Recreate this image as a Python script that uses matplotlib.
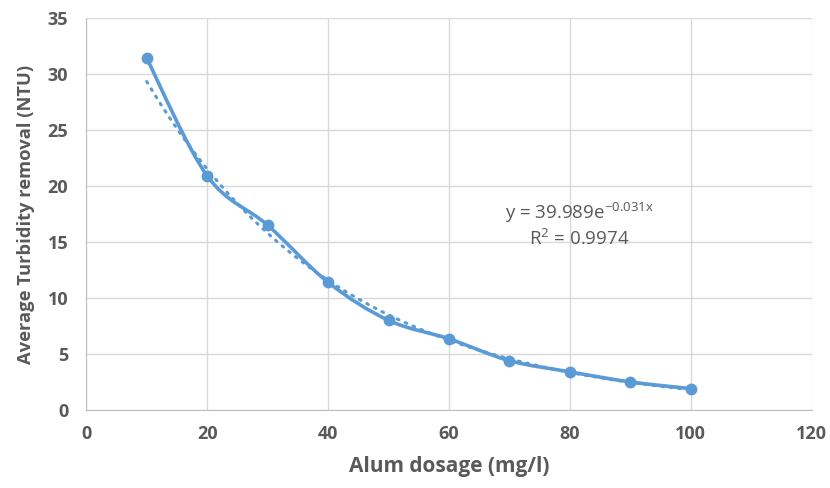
import matplotlib
matplotlib.use("Agg")
import matplotlib.pyplot as plt
import numpy as np
from matplotlib.path import Path
from matplotlib.patches import PathPatch

dosage = [10, 20, 30, 40, 50, 60, 70, 80, 90, 100]
turbidity = [31.4, 20.9, 16.5, 11.4, 8.0, 6.35, 4.4, 3.4, 2.5, 1.9]
fit_a, fit_b = 39.989, -0.031
x_ticks = [0, 20, 40, 60, 80, 100, 120]
y_ticks = [0, 5, 10, 15, 20, 25, 30, 35]

blue = "#5B9BD5"
gray = "#595959"
plt.rcParams['font.family'] = ['Open Sans', 'DejaVu Sans']
plt.rcParams['mathtext.fontset'] = 'custom'
plt.rcParams['mathtext.rm'] = 'Open Sans'

fig = plt.figure(figsize=(8.3, 4.88), dpi=100)
ax = fig.add_axes([0.104, 0.160, 0.874, 0.803])

# smoothed line through points (Catmull-Rom style Bezier)
pts = np.column_stack([dosage, turbidity]).astype(float)
verts = [tuple(pts[0])]
codes = [Path.MOVETO]
n = len(pts)
for i in range(n - 1):
    p0 = pts[i - 1] if i > 0 else pts[i]
    p1 = pts[i]
    p2 = pts[i + 1]
    p3 = pts[i + 2] if i + 2 < n else pts[i + 1]
    c1 = p1 + (p2 - p0) / 6.0
    c2 = p2 - (p3 - p1) / 6.0
    verts += [tuple(c1), tuple(c2), tuple(p2)]
    codes += [Path.CURVE4] * 3
ax.add_patch(PathPatch(Path(verts, codes), facecolor='none', edgecolor=blue,
                       lw=2.6, capstyle='round', joinstyle='round', zorder=3))
ax.plot(dosage, turbidity, 'o', color=blue, ms=7.5, zorder=4)

# exponential trendline from displayed equation
xt = np.linspace(dosage[0], dosage[-1], 200)
ax.plot(xt, fit_a * np.exp(fit_b * xt), linestyle=(0, (0.6, 2.2)), color=blue,
        lw=2.2, dash_capstyle='round', zorder=2)

ax.text(81.5, 17.6, "y = 39.989e$^{\\mathregular{-0.031x}}$", ha='center', va='center',
        fontsize=13.5, color=gray)
ax.text(81.5, 15.3, "R$^{\\mathregular{2}}$ = 0.9974", ha='center', va='center',
        fontsize=13.5, color=gray)

ax.set_xlim(0, 120)
ax.set_ylim(0, 35)
ax.set_xticks(x_ticks)
ax.set_yticks(y_ticks)
ax.grid(True, color='#D9D9D9', lw=1)
ax.set_axisbelow(True)
for s in ['top', 'right']:
    ax.spines[s].set_visible(False)
for s in ['left', 'bottom']:
    ax.spines[s].set_color('#BFBFBF')
ax.tick_params(length=0, labelsize=13, labelcolor=gray)
ax.tick_params(axis='x', pad=11)
ax.tick_params(axis='y', pad=13)
for lab in ax.get_xticklabels() + ax.get_yticklabels():
    lab.set_fontweight('bold')
ax.set_xlabel("Alum dosage (mg/l)", fontsize=15, fontweight='bold', color=gray, labelpad=9)
ax.set_ylabel("Average Turbidity removal (NTU)", fontsize=13.2, fontweight='bold', color=gray, labelpad=9)

fig.savefig("out.png", dpi=100)
